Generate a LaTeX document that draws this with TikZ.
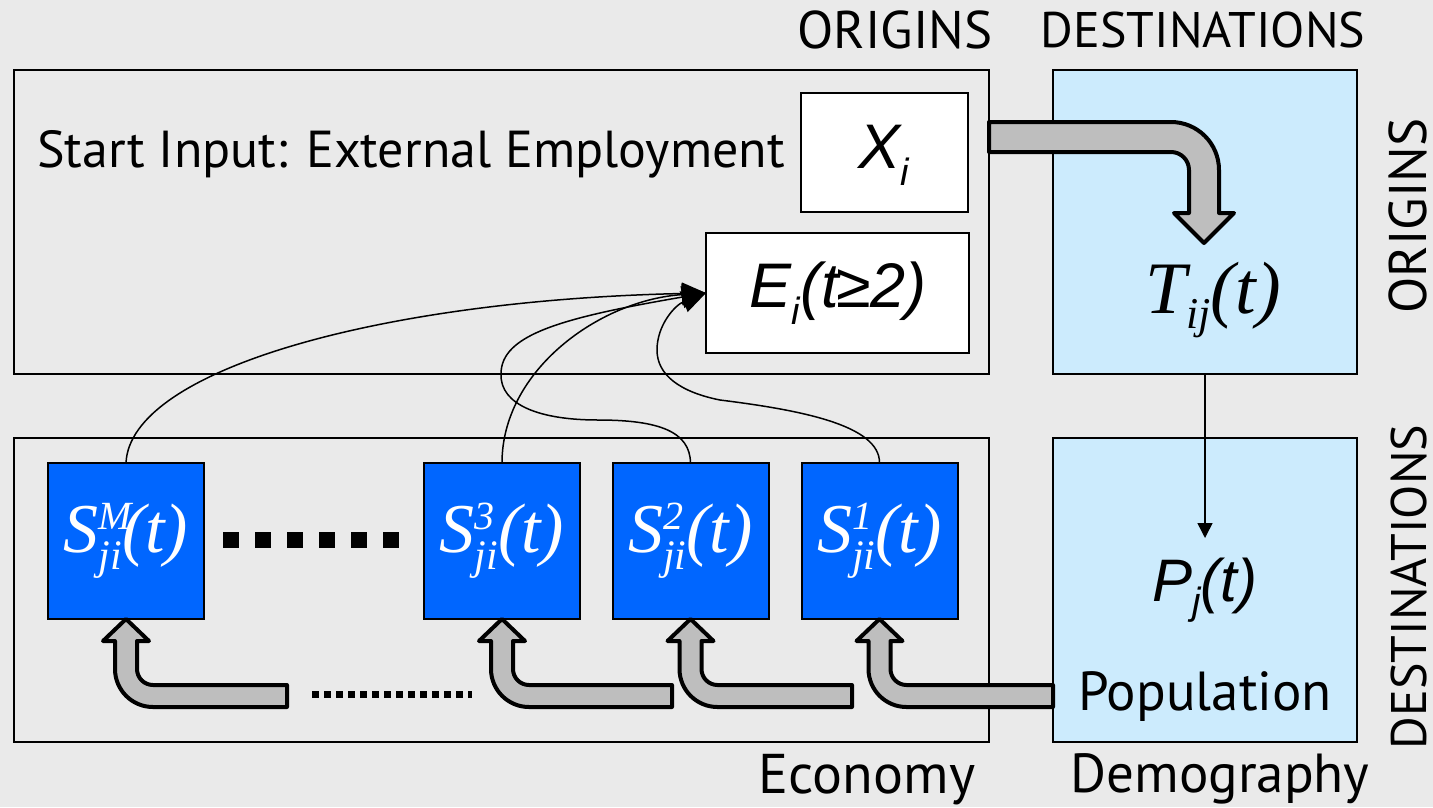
\documentclass[tikz,border=0pt]{standalone}
\usepackage{fontspec}
\setmainfont{PT Sans}
\newfontfamily\sansmath{Liberation Sans}
\newfontfamily\serifmath{Liberation Serif}
\usetikzlibrary{arrows.meta}

\definecolor{bggray}{HTML}{EAEAEA}
\definecolor{popblue}{HTML}{CCEBFD}
\definecolor{sblue}{HTML}{0066FF}
\definecolor{flowgray}{HTML}{BEBEBE}

% S^k_ji(t) in the blue boxes
\newcommand{\Sji}[1]{{\serifmath\itshape\fontsize{70}{72}\selectfont S\rlap{\raisebox{0.32em}{\fontsize{40}{40}\selectfont #1}}\raisebox{-0.25em}{\fontsize{42}{42}\selectfont ji}(t)}}
\newcommand{\lowsub}[3][38]{\raisebox{-#2em}{\fontsize{#1}{#1}\selectfont #3}}

% thick grey bent arrow from the right up into a box, #2 = length of the foot
\newcommand{\bentflow}[2]{%
  \filldraw[flow] (#1.south) -- ++(23,-22) -- ++(-12,0) -- ++(0,-28)
    arc[start angle=180, end angle=270, radius=16pt] -- ++(#2,0) -- ++(0,-22)
    -- ++(-#2,0) arc[start angle=270, end angle=180, radius=38pt]
    -- ++(0,28) -- ++(-12,0) -- cycle;}

\begin{document}
\begin{tikzpicture}[x=1pt, y=1pt,
    panel/.style={draw, line width=2pt, fill=bggray, inner sep=0pt, outer sep=0pt, minimum width=975pt, minimum height=304pt},
    popbox/.style={draw, line width=2pt, fill=popblue, inner sep=0pt, outer sep=0pt, minimum size=304pt},
    whitebox/.style={draw, line width=2pt, fill=white, inner sep=0pt, outer sep=0pt},
    sbox/.style={draw, line width=2pt, fill=sblue, inner sep=0pt, outer sep=0pt, minimum size=156pt, text=white},
    flow/.style={fill=flowgray, draw=black, line width=4pt, line join=round},
    feed/.style={line width=1.5pt, -{Triangle[length=24pt, width=22pt]}},
    lbl/.style={font=\fontsize{50}{58}\selectfont, anchor=base, inner sep=0pt}]

  \fill[bggray] (0,0) rectangle (1433,-807);
  \useasboundingbox (0,0) rectangle (1433,-807);

  % the four quadrants
  \node[panel] (econtop) at (501.5,-222) {};
  \node[panel] (econbot) at (501.5,-590) {};
  \node[popbox] (Tbox) at (1205,-222) {};
  \node[popbox] (Pbox) at (1205,-590) {};

  \node[whitebox, minimum width=167pt, minimum height=119pt] (X) at (884.5,-152.5) {};
  \node[whitebox, minimum width=263pt, minimum height=120pt] (E) at (837.5,-293) {};

  \node[sbox] (SM) at (126,-541) {\Sji{M}};
  \node[sbox] (S3) at (502,-541) {\Sji{3}};
  \node[sbox] (S2) at (690.5,-541) {\Sji{2}};
  \node[sbox] (S1) at (879.5,-541) {\Sji{1}};

  \draw[line width=16pt, dash pattern=on 16pt off 16pt] (223,-540) -- (399,-540); % big dots
  \draw[line width=7pt, dash pattern=on 7pt off 5pt] (312,-694) -- (472,-694); % small dots

  % feedback of the sectors into E_i
  \draw[feed] (SM.north) .. controls (130,-370) and (380,-300) .. (E.west);
  \draw[feed] (S3.north) .. controls (502,-370) and (600,-300) .. (E.west);
  \draw[feed] (S2.north) .. controls (690,-432) and (660,-420) .. (598,-420)
    .. controls (540,-420) and (500,-405) .. (501,-374)
    .. controls (501,-335) and (560,-318) .. (E.west);
  \draw[feed] (S1.north) .. controls (880,-425) and (800,-410) .. (720,-400)
    .. controls (680,-392) and (657,-375) .. (657,-350)
    .. controls (657,-325) and (675,-305) .. (E.west);

  % X_i into T_ij
  \coordinate (xout) at (989,-122);
  \filldraw[flow] (xout) -- (1171,-122) arc[start angle=90, end angle=0, radius=48pt]
    -- (1219,-213) -- (1234,-213) -- (1204,-243) -- (1174,-213) -- (1189,-213)
    -- (1189,-170) arc[start angle=0, end angle=90, radius=18pt] -- (989,-152) -- cycle;

  \coordinate (Ptip) at (1205,-538);
  \draw[line width=1.5pt, -{Triangle[length=15pt, width=15pt]}] (Tbox.south) -- (Ptip);

  % population feeding the sectors
  \bentflow{S1}{146.5}
  \bentflow{S2}{134.5}
  \bentflow{S3}{143}
  \bentflow{SM}{134}

  % formulas
  \node[inner sep=0pt] (Xi) at (884,-155) {\sansmath\itshape\fontsize{63}{70}\selectfont X\lowsub{0.27}{i}};
  \node[inner sep=0pt] (Ei) at (838,-293) {\sansmath\itshape\fontsize{63}{70}\selectfont E\lowsub{0.27}{i}(t\kern-2pt≥\kern-1pt2)};
  \node[inner sep=0pt] (Tij) at (1213,-300) {\serifmath\itshape\fontsize{74}{76}\selectfont T\lowsub[44]{0.2}{ij}(t)};
  \node[inner sep=0pt] (Pj) at (1205,-590) {\sansmath\itshape\fontsize{60}{70}\selectfont P\lowsub{0.22}{j}(t)};

  % labels
  \node[lbl, font=\fontsize{52}{58}\selectfont] (start) at (411,-167) {Start Input: External Employment};
  \node[lbl, font=\fontsize{55}{58}\selectfont] (pop) at (1205,-710) {Population};
  \node[lbl, font=\fontsize{53}{58}\selectfont] (orig) at (895,-48) {ORIGINS};
  \node[lbl] (dest) at (1203,-47) {DESTINATIONS};
  \node[lbl, font=\fontsize{56}{58}\selectfont] (econ) at (867,-793) {Economy};
  \node[lbl, font=\fontsize{55}{58}\selectfont] (demo) at (1220,-792) {Demography};
  \node[lbl, rotate=90, font=\fontsize{53}{58}\selectfont] (origr) at (1426,-216) {ORIGINS};
  \node[lbl, rotate=90] (destr) at (1426,-587) {DESTINATIONS};
\end{tikzpicture}
\end{document}
